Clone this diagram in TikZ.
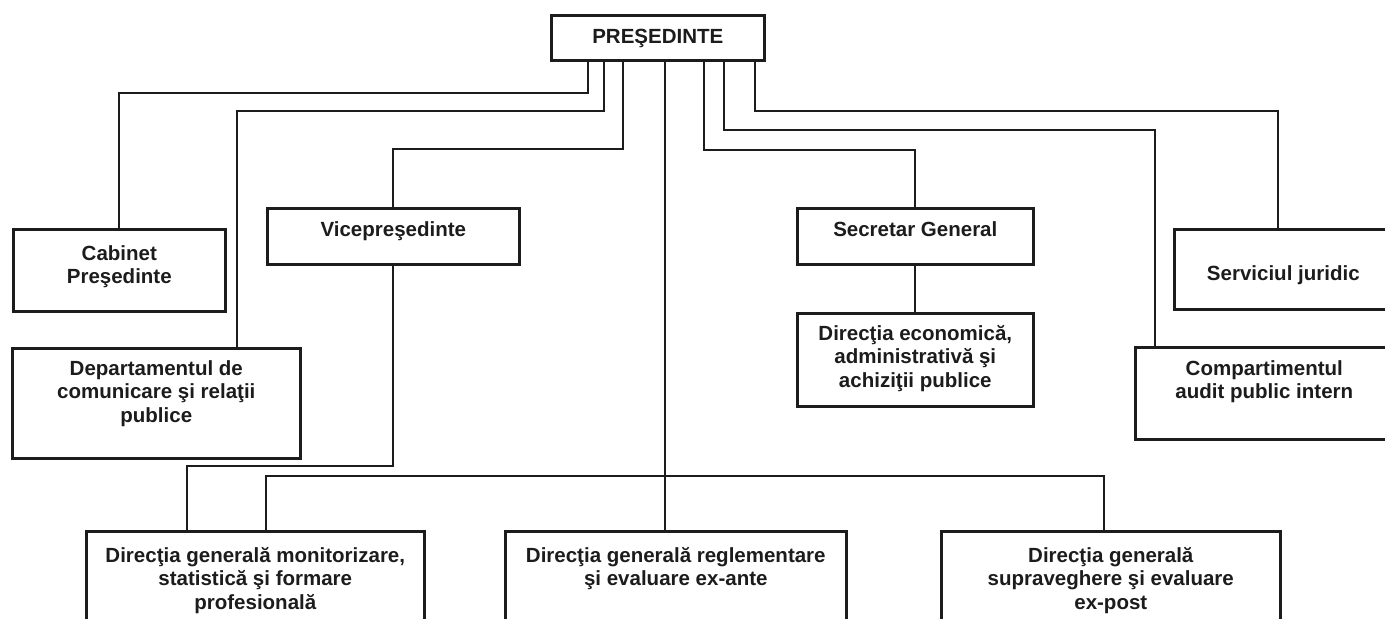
\documentclass[tikz,border=0pt]{standalone}
\usepackage{fontspec}
\setmainfont{Liberation Sans}
\usepackage{tikz}
\usetikzlibrary{positioning}
\definecolor{ink}{HTML}{1C1C1C}
\tikzset{
  unitbox/.style={draw=ink, line width=1.3pt, anchor=north west, inner sep=0pt},
  unitlbl/.style={align=center, inner sep=0pt, text=ink, font=\bfseries\fontsize{10.25}{11.75}\selectfont},
  link/.style={draw=ink, line width=0.9pt}
}

\begin{document}
\begin{tikzpicture}[x=0.5pt, y=-0.5pt]
  \useasboundingbox (0,0) rectangle (1385,618);
  \fill[white] (0,0) rectangle (1385,618);
  \clip (0,0) rectangle (1385,618);

  \node[unitbox, minimum width=106.5pt, minimum height=22.5pt] (pres) at (550,14) {};
  \node[unitbox, minimum width=106pt, minimum height=41pt] (cab) at (12,228) {};
  \node[unitbox, minimum width=126pt, minimum height=28pt] (vice) at (266,207) {};
  \node[unitbox, minimum width=118pt, minimum height=28pt] (sec) at (796,207) {};
  \node[unitbox, minimum width=109pt, minimum height=40pt] (serv) at (1173,228) {};
  \node[unitbox, minimum width=144pt, minimum height=55pt] (dep) at (11,347) {};
  \node[unitbox, minimum width=118pt, minimum height=46.5pt] (direc) at (796,312) {};
  \node[unitbox, minimum width=129pt, minimum height=46pt] (comp) at (1134,346) {};
  \node[unitbox, minimum width=169pt, minimum height=50pt] (dgm) at (85,530) {};
  \node[unitbox, minimum width=170.5pt, minimum height=50pt] (dgr) at (504,530) {};
  \node[unitbox, minimum width=169.5pt, minimum height=50pt] (dgs) at (940,530) {};

  \node[unitlbl, below=7.5pt of pres.north] (prestxt) {PREŞEDINTE};
  \node[unitlbl, below=8.5pt of cab.north] (cabtxt) {Cabinet\\Preşedinte};
  \node[unitlbl, below=7pt of vice.north] (vicetxt) {Vicepreşedinte};
  \node[unitlbl, below=7pt of sec.north] (sectxt) {Secretar General};
  \node[unitlbl, below=18.5pt of serv.north] (servtxt) {Serviciul juridic};
  \node[unitlbl, below=6.5pt of dep.north] (deptxt) {Departamentul de\\comunicare şi relaţii\\publice};
  \node[unitlbl, below=6.5pt of direc.north] (directxt) {Direcţia economică,\\administrativă şi\\achiziţii publice};
  \node[unitlbl, below=7pt of comp.north] (comptxt) {Compartimentul\\audit public intern};
  \node[unitlbl, below=8.5pt of dgm.north] (dgmtxt) {Direcţia generală monitorizare,\\statistică şi formare\\profesională};
  \node[unitlbl, below=8.5pt of dgr.north] (dgrtxt) {Direcţia generală reglementare\\şi evaluare ex-ante};
  \node[unitlbl, below=8.5pt of dgs.north] (dgstxt) {Direcţia generală\\supraveghere şi evaluare\\ex-post};

  \draw[link] ([xshift=-34.75pt]pres.south) -- ++(0,-15.5pt) -| (cab.north);
  \draw[link] ([xshift=-26.75pt]pres.south) -- ++(0,-24.5pt) -| ([xshift=113pt]dep.north west);
  \draw[link] ([xshift=-17.25pt]pres.south) -- ++(0,-43.5pt) -| (vice.north);
  \draw[link] ([xshift=3.75pt]pres.south) -- ([xshift=3.75pt]pres.south |- dgr.north);
  \draw[link] ([xshift=23.25pt]pres.south) -- ++(0,-44pt) -| (sec.north);
  \draw[link] ([xshift=33.25pt]pres.south) -- ++(0,-34pt) -| ([xshift=10.5pt]comp.north west);
  \draw[link] ([xshift=48.75pt]pres.south) -- ++(0,-24.5pt) -| ([xshift=52.5pt]serv.north west);
  \draw[link] (sec.south) -- (direc.north);
  \draw[link] (vice.south) -- ++(0,-100pt) -| ([xshift=51pt]dgm.north west);
  \draw[link] ([xshift=90.5pt]dgm.north west) -- ++(0,27pt) -| ([xshift=82pt]dgs.north west);
\end{tikzpicture}
\end{document}
